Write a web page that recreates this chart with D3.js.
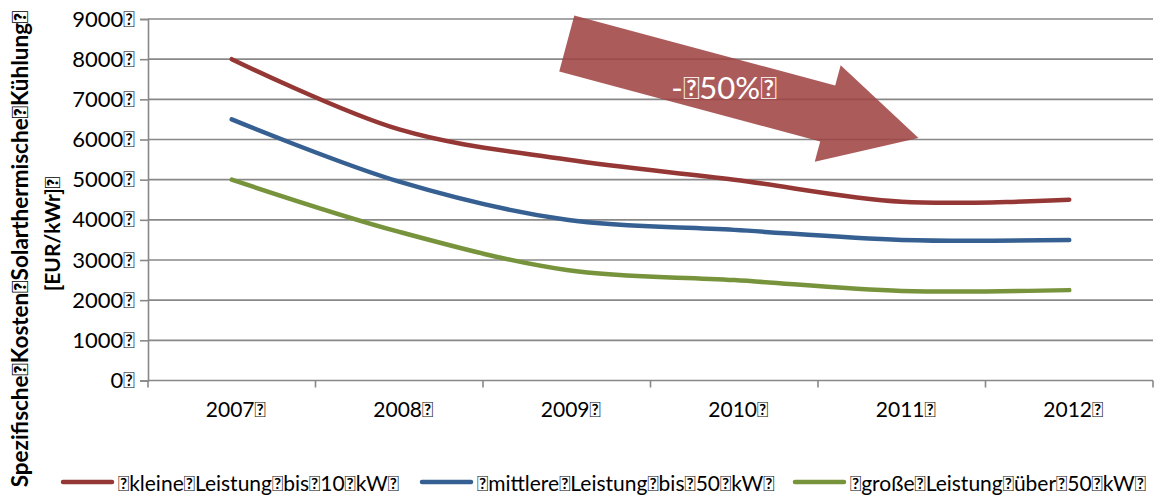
<!DOCTYPE html>
<html>
<head>
<meta charset="utf-8">
<script src="https://cdn.jsdelivr.net/npm/d3@7"></script>
<style>
  body { margin: 0; background: #ffffff; }
  svg text { font-family: Lato, "Open Sans", "DejaVu Sans", sans-serif; fill: #000; }
</style>
</head>
<body>
<svg id="chart" width="1160" height="495"></svg>
<script>
// Spacer glyph that the source labels use in place of blanks
const GAP = "\uF020";

// Categories (years)
const years = ["2007", "2008", "2009", "2010", "2011", "2012"];

// Specific costs of solar thermal cooling [EUR/kWr]
const smallSystems  = [8000, 6250, 5500, 5000, 4450, 4500]; // kleine Leistung bis 10 kW
const mediumSystems = [6500, 4950, 4000, 3750, 3500, 3500]; // mittlere Leistung bis 50 kW
const largeSystems  = [5000, 3700, 2750, 2500, 2230, 2250]; // große Leistung über 50 kW

const seriesNames = [
  "kleine Leistung bis 10 kW",
  "mittlere Leistung bis 50 kW",
  "große Leistung über 50 kW"
];
const seriesColors = ["#953735", "#376092", "#77933c"];

const yTicks = [0, 1000, 2000, 3000, 4000, 5000, 6000, 7000, 8000, 9000];

const titleLines = ["Spezifische Kosten Solarthermische Kühlung", "[EUR/kWr]"];
const arrowLabel = "- 50%";

// Trend arrow: from (year, value) to (year, value)
const arrowFrom = [2009.0, 8390];
const arrowTo   = [2011.1, 6040];

const gapped = s => GAP + s.split(" ").join(GAP) + GAP;
const trail  = s => s.split(" ").join(GAP) + GAP;

const svg = d3.select("#chart");

const plot = { left: 148, right: 1153, top: 19, bottom: 380.5 };

const x = d3.scaleBand().domain(years).range([plot.left, plot.right]).paddingInner(0).paddingOuter(0);
const y = d3.scaleLinear().domain([0, 9000]).range([plot.bottom, plot.top]);
const xc = yr => x(yr) + x.bandwidth() / 2;
const xYear = d3.scaleLinear()
  .domain([+years[0], +years[years.length - 1]])
  .range([xc(years[0]), xc(years[years.length - 1])]);

const gridColor = "#888888";

// Horizontal gridlines
svg.append("g")
  .selectAll("line")
  .data(yTicks.filter(d => d > 0))
  .join("line")
  .attr("x1", plot.left).attr("x2", plot.right)
  .attr("y1", d => y(d)).attr("y2", d => y(d))
  .attr("stroke", gridColor).attr("stroke-width", 1.6);

// Y axis
const yAxis = svg.append("g")
  .attr("transform", `translate(${plot.left},0)`)
  .call(d3.axisLeft(y).tickValues(yTicks).tickSize(8).tickPadding(5)
    .tickFormat(d => d + GAP));
yAxis.select(".domain").attr("stroke", gridColor).attr("stroke-width", 1.6);
yAxis.selectAll(".tick line").attr("stroke", gridColor).attr("stroke-width", 1.6);
yAxis.selectAll(".tick text").attr("font-size", 22).attr("fill", "#000");

// X axis: labels at band centres, tick marks at band edges
const xAxis = svg.append("g")
  .attr("transform", `translate(0,${plot.bottom})`)
  .call(d3.axisBottom(x).tickSize(0).tickPadding(22).tickFormat(d => d + GAP));
xAxis.select(".domain").remove();
xAxis.selectAll(".tick text").attr("font-size", 21).attr("fill", "#000")
  .attr("dx", 4);

svg.append("line")
  .attr("x1", plot.left).attr("x2", plot.right)
  .attr("y1", plot.bottom).attr("y2", plot.bottom)
  .attr("stroke", gridColor).attr("stroke-width", 1.6);

svg.append("g")
  .selectAll("line")
  .data(years.map(d => x(d)).concat([plot.right]))
  .join("line")
  .attr("x1", d => d).attr("x2", d => d)
  .attr("y1", plot.bottom).attr("y2", plot.bottom + 7)
  .attr("stroke", gridColor).attr("stroke-width", 1.6);

// Series lines
const allSeries = [smallSystems, mediumSystems, largeSystems];
const line = d3.line()
  .x((d, i) => xc(years[i]))
  .y(d => y(d))
  .curve(d3.curveCatmullRom.alpha(0.5));

svg.append("g")
  .selectAll("path")
  .data(allSeries)
  .join("path")
  .attr("d", line)
  .attr("fill", "none")
  .attr("stroke", (d, i) => seriesColors[i])
  .attr("stroke-width", 4.5)
  .attr("stroke-linecap", "round")
  .attr("stroke-linejoin", "round");

// Trend arrow
const defs = svg.append("defs");
defs.append("filter").attr("id", "soft")
  .append("feGaussianBlur").attr("stdDeviation", 0.7);

const p0 = [xYear(arrowFrom[0]), y(arrowFrom[1])];
const p1 = [xYear(arrowTo[0]), y(arrowTo[1])];
const dx = p1[0] - p0[0], dy = p1[1] - p0[1];
const len = Math.hypot(dx, dy);
const u = [dx / len, dy / len];
const n = [-u[1], u[0]];
const shaftHalf = 29, headHalf = 50, headLen = 94;
const hb = [p1[0] - headLen * u[0], p1[1] - headLen * u[1]];
const pt = (b, k) => [b[0] + k * n[0], b[1] + k * n[1]];
const arrowPts = [
  pt(p0, -shaftHalf), pt(hb, -shaftHalf), pt(hb, -headHalf), p1,
  pt(hb, headHalf), pt(hb, shaftHalf), pt(p0, shaftHalf)
];
svg.append("polygon")
  .attr("points", arrowPts.map(p => p.join(",")).join(" "))
  .attr("fill", "#a04644")
  .attr("fill-opacity", 0.88)
  .attr("filter", "url(#soft)");

svg.append("text")
  .attr("x", 724).attr("y", 87)
  .attr("text-anchor", "middle")
  .attr("dominant-baseline", "central")
  .attr("font-size", 31)
  .style("fill", "#ffffff")
  .text(trail(arrowLabel));

// Y axis title (two lines, rotated)
svg.append("text")
  .attr("transform", "translate(28,249) rotate(-90)")
  .attr("text-anchor", "middle")
  .attr("font-size", 22.5)
  .attr("font-weight", "bold")
  .text(trail(titleLines[0]));
svg.append("text")
  .attr("transform", "translate(60,234) rotate(-90)")
  .attr("text-anchor", "middle")
  .attr("font-size", 21)
  .attr("font-weight", "bold")
  .text(trail(titleLines[1]));

// Legend
const legendX = [63, 422, 795];
const legendY = 482;
const legend = svg.append("g")
  .selectAll("g")
  .data(seriesNames)
  .join("g")
  .attr("transform", (d, i) => `translate(${legendX[i]},${legendY})`);
legend.append("line")
  .attr("x1", 0).attr("x2", 49)
  .attr("stroke", (d, i) => seriesColors[i])
  .attr("stroke-width", 4.5)
  .attr("stroke-linecap", "round");
legend.append("text")
  .attr("x", 55)
  .attr("dominant-baseline", "central")
  .attr("font-size", 21)
  .text(d => gapped(d));
</script>
</body>
</html>
